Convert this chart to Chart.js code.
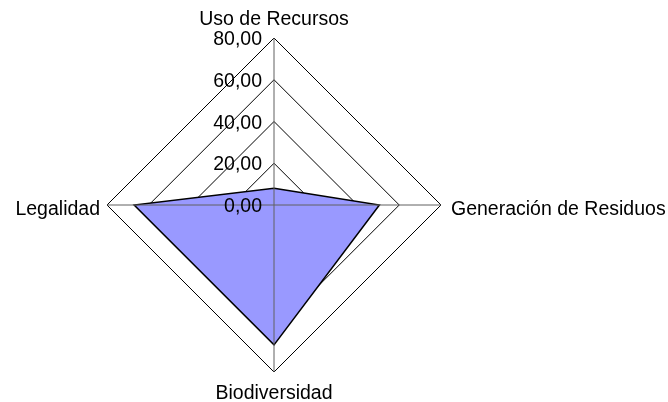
<!DOCTYPE html>
<html>
<head>
<meta charset="utf-8">
<script src="https://cdn.jsdelivr.net/npm/chart.js@4"></script>
<style>
  html, body { margin: 0; padding: 0; background: #fff; }
  #wrap { width: 668px; height: 402px; position: relative; }
</style>
</head>
<body>
<div id="wrap"><canvas id="radarchart"></canvas></div>
<script>
const categories = ["Uso de Recursos", "Generación de Residuos", "Biodiversidad", "Legalidad"];
const scores = [8, 50.5, 67, 67];
const tickValues = [0, 20, 40, 60, 80];

const labelFont = '19.5px "Liberation Sans", Arial, sans-serif';

// axis lines, tick labels and category labels go on top of the filled area
const overlay = {
    id: "overlay",
    afterDatasetsDraw(chart) {
        const r = chart.scales.r;
        const ctx = chart.ctx;
        ctx.save();

        ctx.strokeStyle = "#606060";
        ctx.lineWidth = 1;
        categories.forEach((c, i) => {
            const p = r.getPointPositionForValue(i, r.max);
            ctx.beginPath();
            ctx.moveTo(r.xCenter, r.yCenter);
            ctx.lineTo(p.x, p.y);
            ctx.stroke();
        });

        ctx.font = labelFont;
        ctx.fillStyle = "#000";
        ctx.textBaseline = "alphabetic";

        ctx.textAlign = "right";
        tickValues.forEach(v => {
            const y = r.yCenter - r.getDistanceFromCenterForValue(v);
            ctx.fillText(v.toFixed(2).replace(".", ","), r.xCenter - 12, y + 7);
        });

        categories.forEach((c, i) => {
            const p = r.getPointPositionForValue(i, r.max);
            const dx = p.x - r.xCenter;
            const dy = p.y - r.yCenter;
            if (Math.abs(dx) < 1) {
                ctx.textAlign = "center";
                ctx.fillText(c, p.x, dy < 0 ? p.y - 13 : p.y + 27);
            } else if (dx > 0) {
                ctx.textAlign = "left";
                ctx.fillText(c, p.x + 10, p.y + 9.5);
            } else {
                ctx.textAlign = "right";
                ctx.fillText(c, p.x - 7, p.y + 9.5);
            }
        });

        ctx.restore();
    }
};

const ctx = document.getElementById("radarchart").getContext("2d");

window.radarChart = new Chart(ctx, {
    type: "radar",
    data: {
        labels: categories,
        datasets: [{
            data: scores,
            fill: true,
            backgroundColor: "#9999FF",
            borderColor: "#000",
            borderWidth: 1.5,
            pointRadius: 0,
            pointHoverRadius: 0
        }]
    },
    options: {
        responsive: true,
        maintainAspectRatio: false,
        animation: false,
        layout: {
            padding: { left: 107, right: 227, top: 38, bottom: 30 }
        },
        plugins: {
            legend: { display: false },
            tooltip: { enabled: false }
        },
        scales: {
            r: {
                min: 0,
                max: 80,
                ticks: { stepSize: 20, display: false },
                grid: { color: "#000", lineWidth: 1 },
                angleLines: { display: false },
                pointLabels: { display: false }
            }
        }
    },
    plugins: [overlay]
});
</script>
</body>
</html>
